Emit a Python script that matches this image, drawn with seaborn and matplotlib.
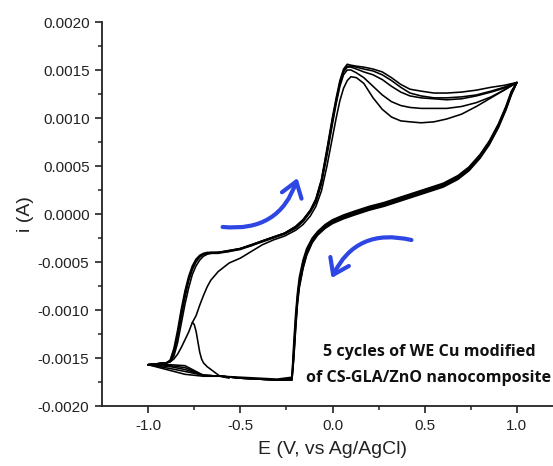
import matplotlib
matplotlib.use("Agg")
import matplotlib.pyplot as plt
import numpy as np
import pandas as pd
import seaborn as sns
from matplotlib.patches import FancyArrowPatch
from matplotlib.ticker import MultipleLocator, FixedLocator, FormatStrFormatter

# ---------------- data (E in V vs Ag/AgCl, i in A) ----------------
fwd_E = [-1.00, -0.95, -0.90, -0.88, -0.86, -0.84, -0.82, -0.80, -0.78, -0.76,
         -0.74, -0.72, -0.70, -0.68, -0.66, -0.62, -0.56, -0.50, -0.44, -0.38,
         -0.32, -0.26, -0.20, -0.16, -0.12, -0.09, -0.06, -0.03, 0.00, 0.02,
         0.04, 0.06, 0.08, 0.10, 0.13, 0.17, 0.22, 0.27, 0.32, 0.37,
         0.42, 0.48, 0.55, 0.62, 0.70, 0.78, 0.86, 0.93, 1.00]

fwd_i_c1 = [-0.00157, -0.00156, -0.00155, -0.00154, -0.00151, -0.00146, -0.00139, -0.00131, -0.00123, -0.00113,
            -0.00106, -0.00095, -0.00085, -0.00076, -0.00069, -0.00060, -0.00051, -0.00046, -0.00039, -0.00032,
            -0.00027, -0.00023, -0.00017, -0.00011, -0.00002, 0.00008, 0.00024, 0.00050, 0.00080, 0.00100,
            0.00118, 0.00131, 0.00139, 0.00143, 0.00142, 0.00136, 0.00121, 0.00109, 0.00101, 0.00097,
            0.00096, 0.00095, 0.00096, 0.00099, 0.00104, 0.00112, 0.00121, 0.00129, 0.00137]
fwd_i_c2 = [-0.00157, -0.00156, -0.00155, -0.00154, -0.00148, -0.00134, -0.00114, -0.00094, -0.00077, -0.00063,
            -0.00054, -0.00048, -0.00044, -0.00042, -0.00041, -0.00041, -0.00039, -0.00037, -0.00033, -0.00029,
            -0.00025, -0.00021, -0.00015, -0.00008, 0.00002, 0.00012, 0.00031, 0.00061, 0.00094, 0.00115,
            0.00133, 0.00145, 0.00150, 0.00150, 0.00147, 0.00142, 0.00133, 0.00124, 0.00117, 0.00113,
            0.00111, 0.00110, 0.00110, 0.00110, 0.00112, 0.00116, 0.00122, 0.00129, 0.00137]
fwd_i_c3 = [-0.00157, -0.00156, -0.00155, -0.00153, -0.00145, -0.00128, -0.00107, -0.00087, -0.00070, -0.00058,
            -0.00050, -0.00045, -0.00042, -0.00041, -0.00041, -0.00040, -0.00039, -0.00036, -0.00033, -0.00028,
            -0.00024, -0.00020, -0.00014, -0.00007, 0.00003, 0.00014, 0.00034, 0.00064, 0.00097, 0.00117,
            0.00135, 0.00148, 0.00153, 0.00153, 0.00151, 0.00148, 0.00145, 0.00140, 0.00133, 0.00127,
            0.00123, 0.00121, 0.00120, 0.00119, 0.00120, 0.00123, 0.00127, 0.00131, 0.00137]
fwd_i_c4 = [-0.00157, -0.00156, -0.00155, -0.00153, -0.00143, -0.00125, -0.00103, -0.00083, -0.00067, -0.00056,
            -0.00048, -0.00044, -0.00042, -0.00041, -0.00040, -0.00040, -0.00038, -0.00036, -0.00032, -0.00028,
            -0.00024, -0.00020, -0.00013, -0.00006, 0.00004, 0.00015, 0.00035, 0.00066, 0.00099, 0.00119,
            0.00137, 0.00149, 0.00154, 0.00154, 0.00153, 0.00151, 0.00149, 0.00145, 0.00139, 0.00132,
            0.00126, 0.00123, 0.00121, 0.00121, 0.00122, 0.00124, 0.00128, 0.00132, 0.00137]
fwd_i_c5 = [-0.00157, -0.00156, -0.00155, -0.00152, -0.00140, -0.00121, -0.00099, -0.00080, -0.00065, -0.00054,
            -0.00047, -0.00043, -0.00041, -0.00040, -0.00040, -0.00040, -0.00038, -0.00036, -0.00032, -0.00028,
            -0.00024, -0.00020, -0.00013, -0.00006, 0.00004, 0.00016, 0.00036, 0.00068, 0.00101, 0.00121,
            0.00139, 0.00151, 0.00156, 0.00155, 0.00154, 0.00153, 0.00151, 0.00148, 0.00142, 0.00135,
            0.00130, 0.00128, 0.00126, 0.00126, 0.00127, 0.00129, 0.00132, 0.00134, 0.00137]

rev_E = [1.00, 0.97, 0.94, 0.90, 0.85, 0.80, 0.74, 0.68, 0.60, 0.52,
         0.44, 0.36, 0.28, 0.20, 0.12, 0.06, 0.00, -0.04, -0.08, -0.11,
         -0.14, -0.16, -0.18, -0.19, -0.20, -0.21, -0.22, -0.30, -0.40, -0.50,
         -0.60, -0.70, -0.80, -0.88, -0.94, -1.00]

rev_i_c1 = [0.00137, 0.00128, 0.00112, 0.00094, 0.00076, 0.00062, 0.00049, 0.00040, 0.00032, 0.00027,
            0.00022, 0.00017, 0.00012, 0.00008, 0.00003, -0.00001, -0.00006, -0.00011, -0.00018, -0.00025,
            -0.00036, -0.00048, -0.00066, -0.00082, -0.00104, -0.00134, -0.00170, -0.00172, -0.00171, -0.00170,
            -0.00169, -0.00169, -0.00167, -0.00163, -0.00160, -0.00157]
rev_i_c2 = [0.00137, 0.00127, 0.00111, 0.00093, 0.00075, 0.00061, 0.00048, 0.00039, 0.00031, 0.00026,
            0.00021, 0.00016, 0.00011, 0.00007, 0.00002, -0.00002, -0.00007, -0.00012, -0.00019, -0.00027,
            -0.00038, -0.00051, -0.00070, -0.00086, -0.00110, -0.00140, -0.00171, -0.00173, -0.00172, -0.00171,
            -0.00169, -0.00168, -0.00164, -0.00161, -0.00159, -0.00157]
rev_i_c3 = [0.00137, 0.00126, 0.00110, 0.00092, 0.00074, 0.00060, 0.00047, 0.00038, 0.00030, 0.00025,
            0.00020, 0.00015, 0.00010, 0.00006, 0.00001, -0.00003, -0.00008, -0.00013, -0.00020, -0.00028,
            -0.00040, -0.00054, -0.00073, -0.00090, -0.00115, -0.00146, -0.00172, -0.00173, -0.00172, -0.00171,
            -0.00169, -0.00168, -0.00162, -0.00159, -0.00158, -0.00157]
rev_i_c4 = [0.00137, 0.00125, 0.00109, 0.00091, 0.00073, 0.00059, 0.00046, 0.00037, 0.00029, 0.00024,
            0.00019, 0.00014, 0.00009, 0.00005, 0.00000, -0.00004, -0.00009, -0.00014, -0.00021, -0.00029,
            -0.00042, -0.00056, -0.00075, -0.00092, -0.00118, -0.00149, -0.00173, -0.00173, -0.00172, -0.00171,
            -0.00169, -0.00168, -0.00160, -0.00158, -0.00157, -0.00157]
rev_i_c5 = [0.00137, 0.00124, 0.00108, 0.00090, 0.00072, 0.00058, 0.00045, 0.00036, 0.00028, 0.00023,
            0.00018, 0.00013, 0.00008, 0.00004, -0.00001, -0.00005, -0.00010, -0.00015, -0.00022, -0.00030,
            -0.00043, -0.00057, -0.00077, -0.00094, -0.00121, -0.00151, -0.00173, -0.00173, -0.00172, -0.00171,
            -0.00169, -0.00168, -0.00158, -0.00157, -0.00156, -0.00157]

# start of the first scan (initial transient before cycle 1)
init_E = [-0.56, -0.61, -0.68, -0.70, -0.71, -0.72, -0.73, -0.74, -0.75, -0.76]
init_i = [-0.00171, -0.00169, -0.00159, -0.00155, -0.00151, -0.00144, -0.00133, -0.00122, -0.00115, -0.00113]

cycles = ["1", "2", "3", "4", "5"]
fwd_all = [fwd_i_c1, fwd_i_c2, fwd_i_c3, fwd_i_c4, fwd_i_c5]
rev_all = [rev_i_c1, rev_i_c2, rev_i_c3, rev_i_c4, rev_i_c5]

x_ticks = [-1.0, -0.5, 0.0, 0.5, 1.0]
y_ticks = [-0.0020, -0.0015, -0.0010, -0.0005, 0.0000, 0.0005, 0.0010, 0.0015, 0.0020]

note = "5 cycles of WE Cu modified\nof CS-GLA/ZnO nanocomposite"

# ---------------- long table ----------------
rows = []
for c, fi, ri in zip(cycles, fwd_all, rev_all):
    E = list(fwd_E) + list(rev_E)
    I = list(fi) + list(ri)
    for k, (e, i) in enumerate(zip(E, I)):
        rows.append({"seg": "c" + c, "order": k, "E": e, "i": i})
for k, (e, i) in enumerate(zip(init_E, init_i)):
    rows.append({"seg": "init", "order": k, "E": e, "i": i})
df = pd.DataFrame(rows)

# ---------------- figure ----------------
sns.set_theme(style="ticks")
plt.rcParams["font.family"] = ["Liberation Sans", "DejaVu Sans"]
plt.rcParams["axes.unicode_minus"] = False

W, H = 553, 466
fig = plt.figure(figsize=(W / 100, H / 100), dpi=100)
ax = fig.add_axes([102 / W, (H - 406) / H, 461 / W, 384 / H])

sns.lineplot(data=df, x="E", y="i", units="seg", estimator=None, sort=False,
             color="black", lw=1.15, legend=False, ax=ax)

ax.set_xlim(-1.25, 1.25)
ax.set_ylim(-0.002, 0.002)
sns.despine(ax=ax)
for s in ["left", "bottom"]:
    ax.spines[s].set_linewidth(1.3)
    ax.spines[s].set_color("#222222")

ax.xaxis.set_major_locator(FixedLocator(x_ticks))
ax.xaxis.set_minor_locator(FixedLocator([-0.75, -0.25, 0.25, 0.75]))
ax.xaxis.set_major_formatter(FormatStrFormatter("%.1f"))
ax.yaxis.set_major_locator(FixedLocator(y_ticks))
ax.yaxis.set_minor_locator(MultipleLocator(0.00025))
ax.yaxis.set_major_formatter(FormatStrFormatter("%.4f"))
ax.tick_params(which="major", direction="out", length=5, width=1.2,
               labelsize=11, colors="#222222", pad=4)
ax.tick_params(which="minor", direction="out", length=3, width=1.1, colors="#222222")

ax.set_xlabel("E (V, vs Ag/AgCl)", fontsize=14, color="#222222", labelpad=6)
ax.set_ylabel("i (A)", fontsize=14, color="#222222", labelpad=3)

# blue curved arrows
blue = "#2d46e4"
arrow_kw = dict(connectionstyle="arc3,rad=0.4",
                arrowstyle="->,head_length=0.53,head_width=0.37",
                mutation_scale=20, lw=3.0, color=blue,
                shrinkA=0, shrinkB=0, capstyle="round", joinstyle="round")
ax.add_patch(FancyArrowPatch(posA=(-0.596, -0.000135), posB=(-0.19, 0.000375), **arrow_kw))
ax.add_patch(FancyArrowPatch(posA=(0.428, -0.000271), posB=(-0.005, -0.000667), **arrow_kw))

fig.text(429 / W, 1 - 365 / H, note, ha="center", va="center",
         fontsize=11.6, fontweight="bold", family=["Open Sans", "DejaVu Sans"],
         color="#111111", linespacing=1.75)

fig.savefig("out.png", dpi=100)
